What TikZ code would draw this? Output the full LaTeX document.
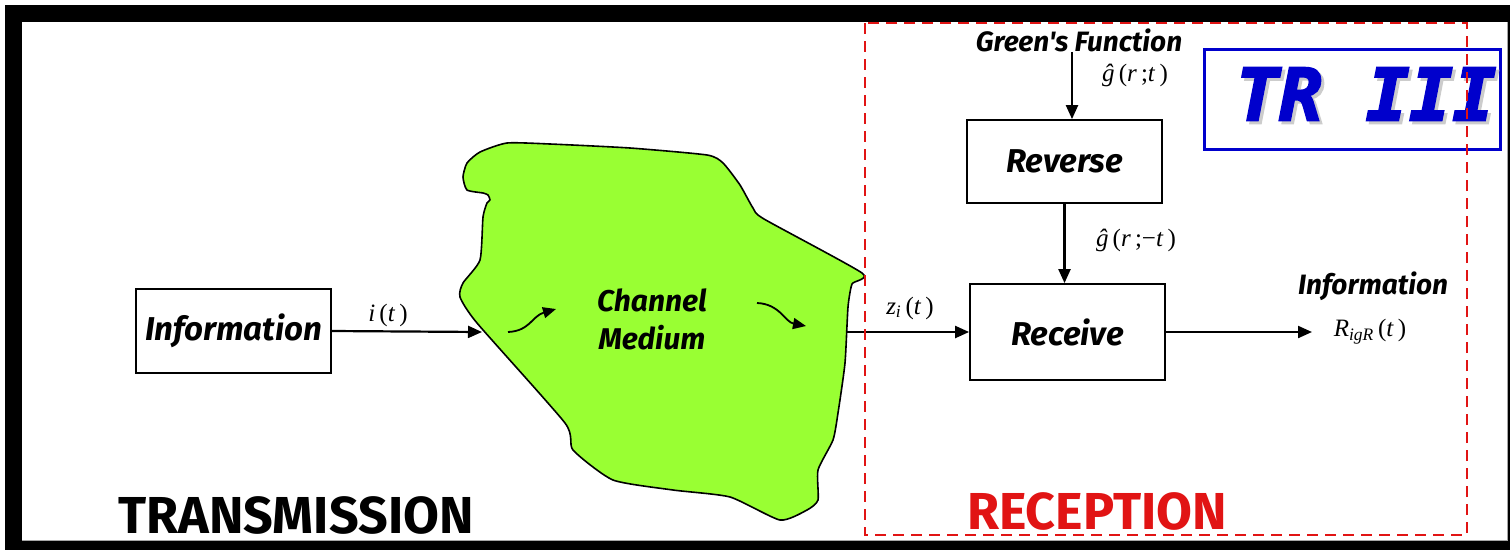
\documentclass[tikz,border=0pt]{standalone}
\usepackage{fontspec}
\newfontfamily\cf{Fira Sans}
\newfontfamily\trf{DejaVu Sans Mono}[FakeBold=3]
\newfontfamily\tms{Liberation Serif}
\usetikzlibrary{arrows.meta}
\definecolor{blobgreen}{RGB}{153,255,51}
\definecolor{recred}{RGB}{225,20,20}
\definecolor{trblue}{RGB}{0,0,204}
\newcommand{\vi}[1]{\textit{#1}}
\tikzset{
  box/.style={draw, line width=1.8pt, inner sep=0pt, minimum width=195pt,
    font=\fontsize{33}{36}\selectfont\cf\bfseries\itshape},
  conn/.style={line width=2.2pt, -{Triangle[length=14pt,width=12pt]}},
  smallconn/.style={line width=1.8pt, -{Triangle[length=13pt,width=11pt]}},
  mlbl/.style={font=\fontsize{25}{28}\selectfont\tms, inner sep=0pt},
  tlbl/.style={font=\cf\bfseries\itshape, inner sep=0pt},
  big/.style={font=\fontsize{52}{56}\selectfont\cf\bfseries, inner sep=0pt},
  trtext/.style={font=\fontsize{72}{76}\selectfont\trf\bfseries\itshape, inner sep=0pt},
}
\begin{document}
\begin{tikzpicture}[x=1pt,y=-1pt]
\useasboundingbox (0,0) rectangle (1510,550);
% frame
\fill[black] (5,5) rectangle (1510,550);
\fill[white] (22,22) rectangle (1507,540);
\draw[gray!70, line width=1pt] (22,540) -- (1507,540) -- (1507,22);

% channel medium blob
\draw[fill=blobgreen, line width=1.6pt, line join=round]
  plot[smooth cycle, tension=0.35] coordinates {
  (463,177) (467,163) (480,152) (507,143) (550,144) (630,148) (707,155)
  (723,163) (740,185) (753,208) (764,219) (862,273) (852,284) (848,307)
  (845,363) (838,413) (833,440) (818,470) (818,500) (807,510) (780,520)
  (730,497) (673,490) (613,480) (573,450) (565,423) (477,323) (460,297)
  (463,283) (480,260) (483,217) (487,203) (490,200) (488,195) (483,193)
  (467,190)};
\node[tlbl, font=\fontsize{30}{38}\selectfont\cf\bfseries\itshape, align=center] (chan) at (652,319) {Channel\\Medium};
\coordinate (ca1) at (508,332);
\coordinate (ca2) at (556,309);
\draw[smallconn] (ca1) .. controls (530,331) and (532,316) .. (ca2);
\coordinate (cb1) at (757,303);
\coordinate (cb2) at (806,326);
\draw[smallconn] (cb1) .. controls (780,304) and (785,322) .. (cb2);

% transmission side
\node[box, minimum height=84pt] (info) at (233.5,331) {\raisebox{-5pt}{Information}};
\coordinate (blobin) at (482,332);
\draw[conn] (info.east) -- (blobin);
\node[mlbl] (it) at (388,315) {\vi{i}\,(\vi{t}\,)};

% reception side
\node[tlbl, font=\fontsize{28}{30}\selectfont\cf\bfseries\itshape] (gf) at (1079,40) {Green's Function};
\node[box, minimum height=83pt] (rev) at (1064.5,161.5) {\raisebox{-6pt}{Reverse}};
\node[box, minimum height=96pt] (rec) at (1067.5,332) {\raisebox{-5pt}{Receive}};
\draw[conn] ([xshift=-7pt]gf.south) -- ([xshift=-7pt]gf.south |- rev.north);
\node[mlbl] (g1) at (1135,75) {\vi{ĝ}\,(\vi{r}\,;\vi{t}\,)};
\draw[conn] (rev.south) -- (rev.south |- rec.north);
\node[mlbl] (g2) at (1136,240) {\vi{ĝ}\,(\vi{r}\,;−\vi{t}\,)};
\coordinate (blobout) at (847,332);
\draw[conn] (blobout) -- (rec.west);
\node[mlbl] (zi) at (910,308) {\vi{z}\textsubscript{\vi{i}}\,(\vi{t}\,)};
\coordinate (outend) at (1312,332);
\draw[conn] (rec.east) -- (outend);
\node[tlbl, font=\fontsize{28}{30}\selectfont\cf\bfseries\itshape] (info2) at (1373,286) {Information};
\node[mlbl] (rig) at (1370,332) {\vi{R}\textsubscript{\vi{igR}}\,(\vi{t}\,)};

% TR III box
\node[draw=trblue, line width=3pt, minimum width=296pt, minimum height=100pt, inner sep=0pt] (trbox) at (1352,99) {};
\node[trtext, text=gray!40] (trsh) at (1369,97) {TR III};
\node[trtext, text=trblue] (tr) at (1366,94) {TR III};

% bottom labels
\node[big] (trans) at (296,515) {TRANSMISSION};
\node[big, text=recred] (recp) at (1097,511) {RECEPTION};

% reception region
\draw[recred, line width=2.8pt, dash pattern=on 11pt off 7pt] (865,23) rectangle (1467,535);
\end{tikzpicture}
\end{document}
